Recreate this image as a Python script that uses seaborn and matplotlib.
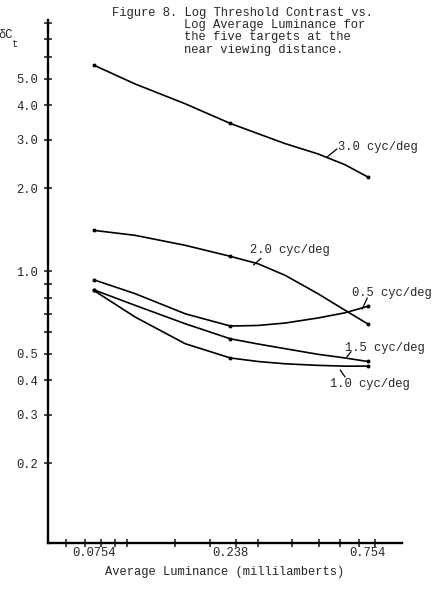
import pandas as pd
import matplotlib
matplotlib.use("Agg")
import matplotlib.pyplot as plt
from matplotlib.ticker import FixedLocator, FixedFormatter, NullFormatter
import seaborn as sns

# luminance levels where thresholds were measured (millilamberts)
luminance = [0.0754, 0.238, 0.754]
x_tick_labels = ["0.0754", "0.238", "0.754"]
x_minor_ticks = [0.06, 0.07, 0.08, 0.09, 0.1, 0.15, 0.2, 0.25, 0.3, 0.4, 0.5, 0.6, 0.7, 0.8]

y_major_ticks = [0.2, 0.3, 0.4, 0.5, 1.0, 2.0, 3.0, 4.0, 5.0]
y_tick_labels = ["0.2", "0.3", "0.4", "0.5", "1.0", "2.0", "3.0", "4.0", "5.0"]
y_minor_ticks = [0.6, 0.7, 0.8, 0.9, 6.0, 7.0, 8.0]

targets = ["0.5 cyc/deg", "1.0 cyc/deg", "1.5 cyc/deg", "2.0 cyc/deg", "3.0 cyc/deg"]

# measured threshold contrast (points)
points_05 = [0.930, 0.631, 0.744]
points_10 = [0.851, 0.483, 0.451]
points_15 = [0.855, 0.567, 0.469]
points_20 = [1.406, 1.131, 0.643]
points_30 = [5.61, 3.44, 2.20]

# hand-drawn curves
curve_lum = [0.0754, 0.107, 0.163, 0.238, 0.30, 0.377, 0.497, 0.624, 0.754]
curve_05 = [0.930, 0.827, 0.699, 0.631, 0.634, 0.647, 0.675, 0.705, 0.744]
curve_10 = [0.851, 0.680, 0.544, 0.483, 0.469, 0.460, 0.454, 0.451, 0.451]
curve_15 = [0.855, 0.750, 0.643, 0.567, 0.543, 0.522, 0.498, 0.483, 0.469]
curve_20 = [1.406, 1.348, 1.240, 1.131, 1.063, 0.965, 0.827, 0.720, 0.643]
curve_30 = [5.61, 4.786, 4.055, 3.44, 3.16, 2.906, 2.666, 2.435, 2.20]

# label text position and leader line (start, end) for each target
label_pos = {
    "0.5 cyc/deg": (0.661, 0.832),
    "1.0 cyc/deg": (0.550, 0.388),
    "1.5 cyc/deg": (0.624, 0.525),
    "2.0 cyc/deg": (0.281, 1.192),
    "3.0 cyc/deg": (0.588, 2.82),
}
leaders = {
    "0.5 cyc/deg": ((0.720, 0.727), (0.752, 0.798)),
    "1.0 cyc/deg": ((0.599, 0.4365), (0.624, 0.412)),
    "1.5 cyc/deg": ((0.634, 0.488), (0.656, 0.509)),
    "2.0 cyc/deg": ((0.289, 1.051), (0.3077, 1.112)),
    "3.0 cyc/deg": ((0.537, 2.60), (0.583, 2.78)),
}

title_lines = [
    "Figure 8. Log Threshold Contrast vs.",
    "Log Average Luminance for",
    "the five targets at the",
    "near viewing distance.",
]

sns.set_style("ticks")
plt.rcParams["font.family"] = ["Liberation Mono", "DejaVu Sans Mono", "DejaVu Sans"]
FS = 8.7

curves = pd.DataFrame({
    "lum": curve_lum * 5,
    "contrast": curve_05 + curve_10 + curve_15 + curve_20 + curve_30,
    "target": [t for t in targets for _ in curve_lum],
})
points = pd.DataFrame({
    "lum": luminance * 5,
    "contrast": points_05 + points_10 + points_15 + points_20 + points_30,
    "target": [t for t in targets for _ in luminance],
})

fig = plt.figure(figsize=(4.32, 6.06), dpi=100)
ax = fig.add_axes([48 / 432, 63 / 606, 354 / 432, 523 / 606])
ax.set_xscale("log")
ax.set_yscale("log")

sns.lineplot(data=curves, x="lum", y="contrast", units="target", estimator=None,
             sort=False, color="black", linewidth=1.2, ax=ax)
sns.scatterplot(data=points, x="lum", y="contrast", color="black", s=8,
                edgecolor="black", linewidth=0, ax=ax)

for t in targets:
    x, y = label_pos[t]
    ax.text(x, y, t, fontsize=FS, ha="left", va="center")
    (x0, y0), (x1, y1) = leaders[t]
    ax.annotate("", xy=(x1, y1), xytext=(x0, y0),
                arrowprops=dict(arrowstyle="-", lw=0.9, color="black",
                                shrinkA=0, shrinkB=0))

ax.set_xlim(0.0514, 1.007)
ax.set_ylim(0.1026, 8.18)

ax.xaxis.set_major_locator(FixedLocator(luminance))
ax.xaxis.set_major_formatter(FixedFormatter(x_tick_labels))
ax.xaxis.set_minor_locator(FixedLocator(x_minor_ticks))
ax.xaxis.set_minor_formatter(NullFormatter())
ax.yaxis.set_major_locator(FixedLocator(y_major_ticks))
ax.yaxis.set_major_formatter(FixedFormatter(y_tick_labels))
ax.yaxis.set_minor_locator(FixedLocator(y_minor_ticks))
ax.yaxis.set_minor_formatter(NullFormatter())

ax.tick_params(axis="x", which="major", length=0, pad=3, labelsize=FS)
ax.tick_params(axis="x", which="minor", direction="inout", length=6, width=1.2)
ax.tick_params(axis="y", which="both", direction="inout", length=6, width=1.2,
               pad=4, labelsize=FS)

sns.despine(ax=ax)
for side in ["left", "bottom"]:
    ax.spines[side].set_linewidth(1.7)
    ax.spines[side].set_color("black")

ax.set_xlabel("Average Luminance (millilamberts)", fontsize=FS, labelpad=5)
ax.set_ylabel("")

# y axis label at top left, partly off the page as in the scan
fig.text(13 / 432, 1 - 35 / 606, "δC", fontsize=FS, ha="right", va="center")
fig.text(12 / 432, 1 - 44 / 606, "t", fontsize=7.5, ha="left", va="center")

fig.text(112 / 432, 1 - 13 / 606, title_lines[0], fontsize=FS, ha="left", va="center")
for i, line in enumerate(title_lines[1:]):
    fig.text(184 / 432, 1 - (25 + 12.3 * i) / 606, line, fontsize=FS,
             ha="left", va="center")

fig.savefig("out.png", dpi=100)
